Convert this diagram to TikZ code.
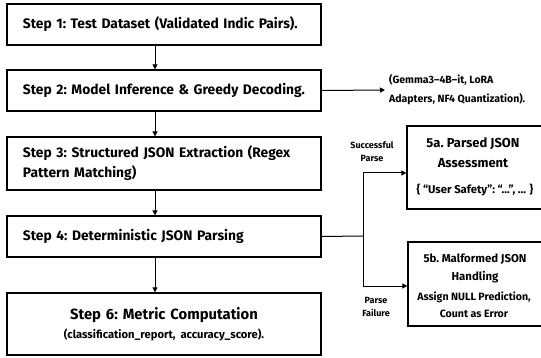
\documentclass[tikz,border=0pt]{standalone}
\usepackage{fontspec}
\setmainfont{Fira Sans}
\usetikzlibrary{arrows.meta,calc}
\begin{document}
\begin{tikzpicture}[x=1pt,y=-1pt,
  stepbox/.style={draw=black,line width=1.3pt,minimum width=314pt,inner xsep=8pt,inner ysep=0pt,font=\fontsize{13.8}{20}\selectfont\bfseries,align=left,text width=298pt},
  sidebox/.style={draw=black,line width=1.3pt,inner sep=0pt,align=center},
  arr/.style={line width=1pt,-{Triangle[length=5pt,width=5pt]}},
  lbl/.style={font=\fontsize{9}{13}\selectfont\bfseries,align=center,inner sep=0pt},
  note/.style={font=\fontsize{10.5}{19}\selectfont\bfseries,align=left,inner sep=0pt}]
\fill[white] (0,0) rectangle (541,358);
\useasboundingbox (0,0) rectangle (541,358);
\clip (0,0) rectangle (541,358);
\node[stepbox,minimum height=41pt] (b1) at (164,24.5) {\hspace*{8pt}\mbox{Step 1:\ Test Dataset (Validated Indic Pairs).}};
\node[stepbox,minimum height=41pt] (b2) at (164,90.5) {\hspace*{8pt}\mbox{Step 2:\ Model Inference \& Greedy Decoding.}};
\node[stepbox,minimum height=53pt] (b3) at (164,163.5) {\hspace*{8pt}\mbox{Step 3:\ Structured JSON Extraction (Regex}\\\hspace*{8pt}Pattern Matching)};
\node[stepbox,minimum height=41pt] (b4) at (164,236.5) {\hspace*{8pt}Step 4:\ Deterministic JSON Parsing};
\node[stepbox,minimum height=62pt,align=center,font=\fontsize{14.8}{20}\selectfont\bfseries] (b6) at (164,324) {Step 6:\ Metric Computation\\[-1pt]{\fontsize{11.2}{13}\selectfont (classification\_report,\ accuracy\_score).}};
\node[sidebox,minimum width=138pt,minimum height=83pt] (b5a) at (476,167.5) {};
\node[sidebox,minimum width=137pt,minimum height=84pt] (b5b) at (476.5,284) {};
\node[lbl,font=\fontsize{13}{20}\selectfont\bfseries] (t5a) at (473,153) {5a.\ Parsed JSON\\Assessment};
\node[lbl,font=\fontsize{11.3}{13}\selectfont\bfseries] (t5a2) at (475,190) {\{ “User Safety”:\ “...”,\ ... \}};
\node[lbl,font=\fontsize{11.4}{18.5}\selectfont\bfseries] (t5b) at (475,268.5) {5b.\ Malformed JSON\\Handling};
\node[lbl,font=\fontsize{10.6}{17}\selectfont\bfseries] (t5b2) at (474,304.5) {Assign NULL Prediction,\\Count as Error};
\node[note,anchor=west] (gm) at (385,90) {\hspace{4pt}(Gemma3–4B–it,\ LoRA\\\hspace{4pt}Adapters,\ NF4 Quantization).};
\node[lbl] (sp) at (372,152) {Successful\\Parse};
\node[lbl] (pf) at (376,307) {Parse\\Failure};
\coordinate (ax) at (155,0);
\coordinate (j) at (363,236);
\coordinate (jt) at (0,173);
\coordinate (jb) at (0,286);
\draw[arr] (b1.south -| ax) -- (b2.north -| ax);
\draw[arr] (b2.south -| ax) -- (b3.north -| ax);
\draw[arr] (b3.south -| ax) -- (b4.north -| ax);
\draw[arr] (b4.south -| ax) -- (b6.north -| ax);
\draw[arr] (b2.east) -- (gm.west);
\draw[line width=1pt] (b4.east) -- (j);
\draw[arr] (j) |- (b5a.west |- jt);
\draw[arr] (j) |- (b5b.west |- jb);
\end{tikzpicture}
\end{document}
